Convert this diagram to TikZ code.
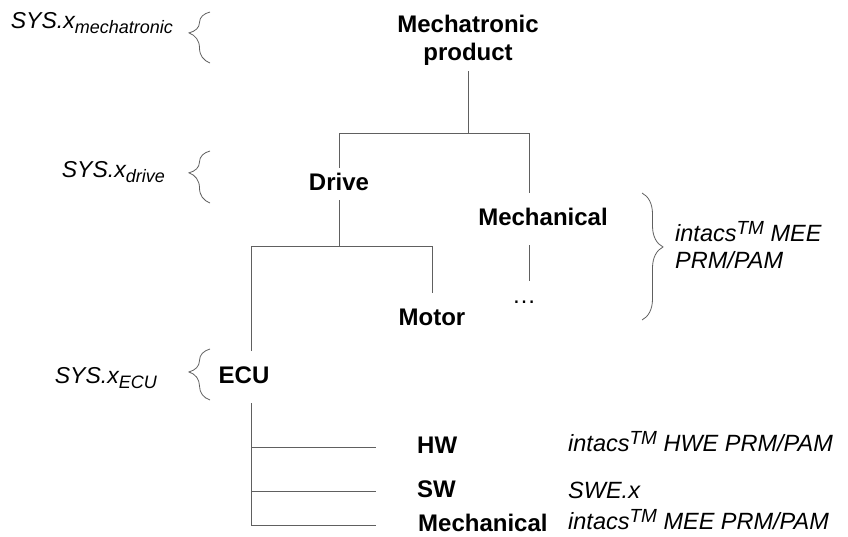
\documentclass[tikz,border=0pt]{standalone}
\usepackage{fontspec}
\setmainfont{Liberation Sans}
\usetikzlibrary{positioning,calc,decorations.pathreplacing}
\definecolor{Wire}{HTML}{606060}
\definecolor{Ink}{HTML}{000000}
\newcommand{\lvsub}[1]{\raisebox{-5pt}{\fontsize{18}{18}\selectfont #1}}
\newcommand{\tmsup}{\raisebox{7pt}{\fontsize{19}{19}\selectfont TM}}
\tikzset{
  partbox/.style={font=\fontsize{24}{28}\selectfont\bfseries, text=Ink, text height=17pt, text depth=5pt, inner sep=5pt, anchor=base},
  spaced/.style={outer sep=10pt},
  annot/.style={font=\fontsize{23.5}{27}\selectfont\itshape, text=Ink, inner sep=0pt, anchor=base west, align=left},
  levelname/.style={font=\fontsize{23}{27}\selectfont\itshape, text=Ink, inner sep=0pt, anchor=base east},
  branch/.style={draw=Wire, line width=0.8pt},
  curly/.style={draw=Wire, line width=0.8pt, decorate, decoration={brace, amplitude=21pt, aspect=#1}}
}

\begin{document}
\begin{tikzpicture}[x=1pt, y=-1pt]
  \useasboundingbox (0,0) rectangle (848,536);

  % abstraction levels
  \node[levelname] (lvtop) at (173,28) {SYS.x\lvsub{mechatronic}};
  \node[levelname] (lvdrive) at (165,177) {SYS.x\lvsub{drive}};
  \node[levelname] (lvecu) at (157,383) {SYS.x\lvsub{ECU}};
  \foreach \lo/\hi/\tip in {63/12/0.59, 203/151/0.58, 400/349/0.55}
    \draw[curly=\tip] (210,\lo) -- (210,\hi);

  % product tree
  \node[font=\fontsize{24}{28}\selectfont\bfseries, align=center, inner sep=6pt] (product) at (468,40) {Mechatronic\\product};
  \node[partbox] (drive) at (339,190) {Drive};
  \node[partbox, spaced] (mechA) at (543,225) {Mechanical};
  \node[partbox, font=\fontsize{24}{28}\selectfont] (dots) at (524,303) {…};
  \node[partbox, spaced] (motor) at (432,325) {Motor};
  \node[partbox, spaced] (ecu) at (244,383) {ECU};
  \node[partbox, anchor=base west] (hw) at (412,453) {HW};
  \node[partbox, anchor=base west] (sw) at (412,497) {SW};
  \node[partbox, anchor=base west] (mechB) at (413,531) {Mechanical};

  \coordinate (topfork) at (468,133);
  \coordinate (mechfork) at (529,133);
  \coordinate (ecufork) at (251,246);
  \coordinate (motorfork) at (motor |- ecufork);

  \draw[branch] (product) -- (topfork);
  \draw[branch] (drive) |- (mechfork) -- (mechfork |- mechA.north);
  \draw[branch] (mechfork |- mechA.south) -- (mechfork |- dots.north);
  \draw[branch] (drive) -- (drive |- ecufork);
  \draw[branch] (ecufork |- ecu.north) -- (ecufork) -- (motorfork) -- (motor);
  \draw[branch, shorten >=37pt] (ecufork |- ecu.south) |- (mechB.west);
  \draw[branch, shorten >=36pt] (ecufork |- hw.west) -- (hw.west);
  \draw[branch, shorten >=36pt] (ecufork |- sw.west) -- (sw.west);

  % process reference models
  \draw[curly=0.425] (642,193) -- (642,320);
  \node[annot, anchor=north west] (meenote) at (675,221) {intacs\tmsup{} MEE\\PRM/PAM};
  \node[annot] (hwnote) at (568,451) {intacs\tmsup{} HWE PRM/PAM};
  \node[annot] (swnote) at (568,498) {SWE.x};
  \node[annot] (mechnote) at (568,529) {intacs\tmsup{} MEE PRM/PAM};
\end{tikzpicture}
\end{document}
